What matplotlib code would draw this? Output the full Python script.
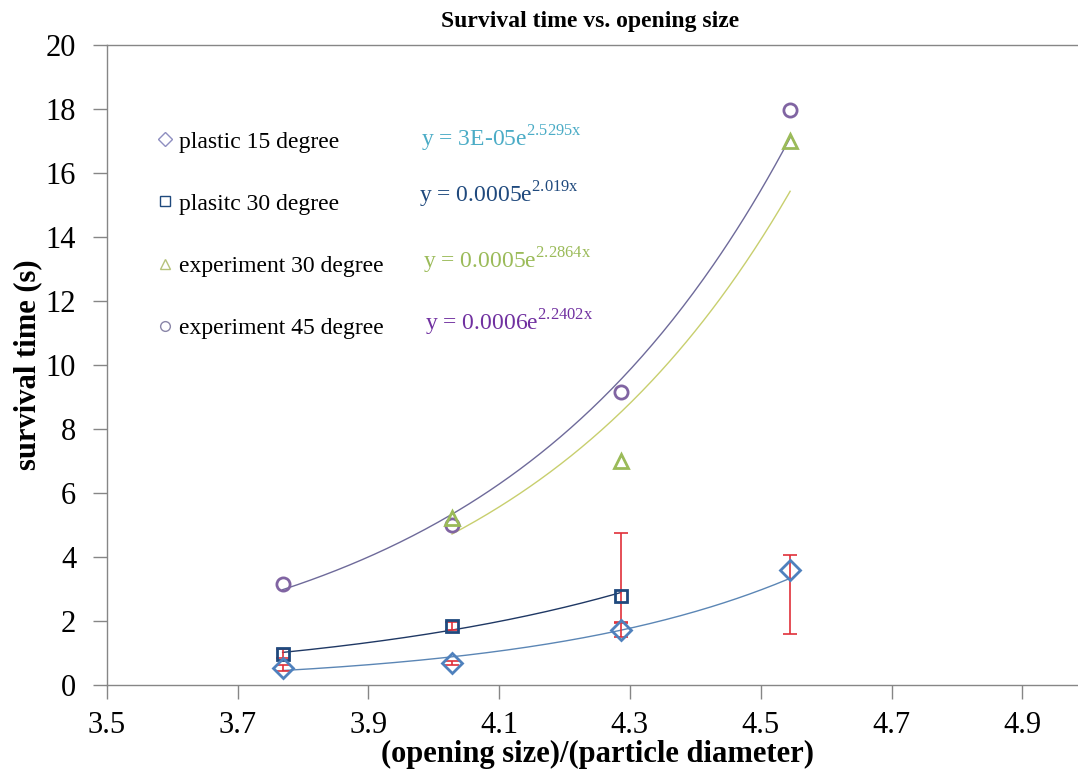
import numpy as np
from matplotlib import pyplot as plt
from matplotlib.lines import Line2D

plt.rcParams['font.family'] = ['Liberation Serif', 'DejaVu Serif']
plt.rcParams['mathtext.fontset'] = 'custom'
plt.rcParams['mathtext.rm'] = 'Liberation Serif'

# (opening size)/(particle diameter)
x_all = [3.769, 4.028, 4.286, 4.545]

# plastic 15 degree
x_p15 = [3.769, 4.028, 4.286, 4.545]
y_p15 = [0.53, 0.69, 1.72, 3.60]
err_p15_lo = [0.10, 0.05, 0.21, 2.02]
err_p15_hi = [0.10, 0.05, 0.21, 0.46]

# plasitc 30 degree
x_p30 = [3.769, 4.028, 4.286]
y_p30 = [0.98, 1.85, 2.78]
err_p30_lo = [0.15, 0.12, 0.80]
err_p30_hi = [0.15, 0.12, 1.97]

# experiment 30 degree
x_e30 = [4.028, 4.286, 4.545]
y_e30 = [5.2, 7.0, 17.0]

# experiment 45 degree
x_e45 = [3.769, 4.028, 4.286, 4.545]
y_e45 = [3.15, 5.0, 9.15, 17.95]

labels = ['plastic 15 degree', 'plasitc 30 degree', 'experiment 30 degree', 'experiment 45 degree']
equations = [r'y = 3E-05e$^{\mathrm{2.5295x}}$', r'y = 0.0005e$^{\mathrm{2.019x}}$',
             r'y = 0.0005e$^{\mathrm{2.2864x}}$', r'y = 0.0006e$^{\mathrm{2.2402x}}$']

c_p15 = '#4F81BD'
c_p30 = '#1F497D'
c_e30 = '#9BBB59'
c_e45 = '#8064A2'
c_err = '#E0303A'
grey = '#868686'


def exp_trend(x, y):
    # same as an Excel exponential trendline: straight line fit of ln(y)
    b, a = np.polyfit(x, np.log(y), 1)
    xx = np.linspace(min(x), max(x), 200)
    return xx, np.exp(a) * np.exp(b * xx)


fig = plt.figure(figsize=(10.78, 7.70), dpi=100)
ax = fig.add_axes([106.7/1078, 1-685/770, 981/1078, 640.5/770])

# trendlines
xx, yy = exp_trend(x_e45, y_e45)
ax.plot(xx, yy, color='#6E6A9A', lw=1)
xx, yy = exp_trend(x_e30, y_e30)
ax.plot(xx, yy, color='#C8CF6E', lw=1)
xx, yy = exp_trend(x_p30, y_p30)
ax.plot(xx, yy, color='#1F3864', lw=1)
xx, yy = exp_trend(x_p15, y_p15)
ax.plot(xx, yy, color='#5B86B5', lw=1)

# error bars
ax.errorbar(x_p30, y_p30, yerr=[err_p30_lo, err_p30_hi], fmt='none', ecolor=c_err,
            elinewidth=1.2, capsize=5, capthick=1.2)
ax.errorbar(x_p15, y_p15, yerr=[err_p15_lo, err_p15_hi], fmt='none', ecolor=c_err,
            elinewidth=1.2, capsize=5, capthick=1.2)

# data points
ax.plot(x_e45, y_e45, 'o', ms=9.5, mfc='none', mec=c_e45, mew=2)
ax.plot(x_e30, y_e30, '^', ms=9.5, mfc='none', mec=c_e30, mew=2)
ax.plot(x_p30, y_p30, 's', ms=9, mfc='none', mec=c_p30, mew=2)
ax.plot(x_p15, y_p15, 'D', ms=10, mfc='none', mec=c_p15, mew=2)

ax.set_xlim(3.5, 5.0)
ax.set_ylim(0, 20)
ax.set_xticks(np.arange(3.5, 5.0, 0.2))
ax.set_xticklabels(['%.1f' % v for v in np.arange(3.5, 5.0, 0.2)])
ax.set_yticks(np.arange(0, 21, 2))

for s in ['left', 'bottom', 'top']:
    ax.spines[s].set_color(grey)
    ax.spines[s].set_linewidth(1)
ax.spines['right'].set_visible(False)
ax.tick_params(axis='both', direction='out', length=10, width=1, color=grey, labelsize=22)
ax.tick_params(axis='y', pad=12)
ax.tick_params(axis='x', pad=9)

ax.set_xlabel('(opening size)/(particle diameter)', fontsize=22, fontweight='bold')
ax.xaxis.set_label_coords(0.5, -0.086)
ax.set_ylabel('survival time (s)', fontsize=22, fontweight='bold')
ax.yaxis.set_label_coords(-0.066, 0.5)

fig.text(590/1078, 1-21/770, 'Survival time vs. opening size', fontsize=17,
         fontweight='bold', ha='center', va='center')

# legend (markers only)
handles = [Line2D([], [], ls='none', marker='D', ms=7, mfc='none', mec='#8E8EC0', mew=1),
           Line2D([], [], ls='none', marker='s', ms=7, mfc='none', mec=c_p30, mew=1),
           Line2D([], [], ls='none', marker='^', ms=7, mfc='none', mec='#B5C27A', mew=1),
           Line2D([], [], ls='none', marker='o', ms=7, mfc='none', mec='#8A86A8', mew=1)]
ax.legend(handles, labels, loc='upper left', bbox_to_anchor=(158/1078, 1-131/770),
          bbox_transform=fig.transFigure, frameon=False, fontsize=17, borderpad=0,
          borderaxespad=0, handlelength=0.6, handletextpad=0.3, labelspacing=1.72)

# trendline equations
eq_colors = ['#4BACC6', c_p30, c_e30, '#7030A0']
eq_x = [421, 419, 423, 425]
eq_y = [147, 203, 269, 331]
for t, c, ex, ey in zip(equations, eq_colors, eq_x, eq_y):
    fig.text(ex/1078, 1-ey/770, t, color=c, fontsize=17, ha='left', va='baseline')

fig.savefig('out.png', dpi=100)
